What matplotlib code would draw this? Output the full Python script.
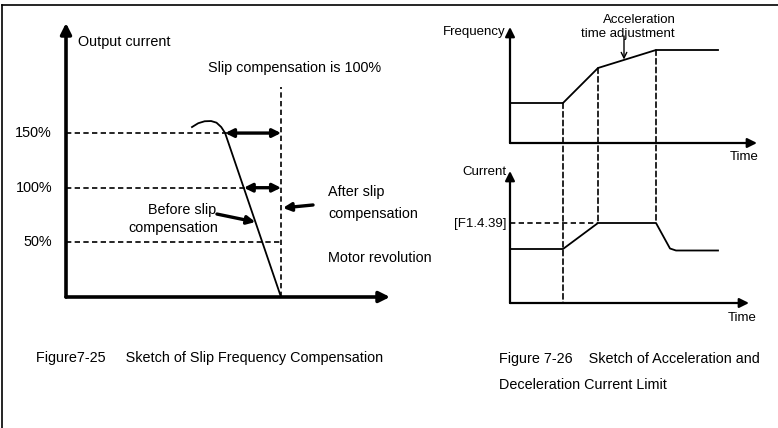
import matplotlib.pyplot as plt
from matplotlib.patches import ConnectionPatch

plt.rcParams['font.family'] = ['Liberation Sans', 'DejaVu Sans']

# ---- Figure 7-25: slip compensation (x: motor revolution, 100 = synchronous; y: current %)
levels_pct = [150, 100, 50]
level_labels = ['150%', '100%', '50%']
slip_x = 100
curve_x = [58.6, 61.5, 64.5, 67.5, 70.0, 72.2, 74.0, 100.0]
curve_y = [155.5, 159.0, 160.8, 161.0, 159.5, 155.5, 150.0, 0.0]
arrow_from_x = [74.0, 82.7]  # where the curve crosses 150% / 100%

# ---- Figure 7-26: acceleration current limit (x: time)
t_freq = [0, 5.3, 8.8, 14.6, 20.8]
freq = [40, 40, 75, 93, 93]
t_cur = [0, 5.3, 8.8, 14.6, 16.0, 16.6, 20.8]
cur = [54, 54, 80, 80, 54.5, 52.5, 52.5]
cur_limit = 80
t_marks = [5.3, 8.8, 14.6]

W, H = 778, 428
fig = plt.figure(figsize=(W / 100, H / 100), dpi=100)


def px_axes(x0, y0, x1, y1):
    # axes whose origin sits at pixel (x0, y0) and top-right at (x1, y1)
    return fig.add_axes([x0 / W, (H - y0) / H, (x1 - x0) / W, (y0 - y1) / H])


# border
ov = fig.add_axes([0, 0, 1, 1])
ov.set_xlim(0, W)
ov.set_ylim(H, 0)
ov.axis('off')
ov.plot([2.5, W], [5, 5], color='black', lw=1.2)
ov.plot([2.5, 2.5], [5, H], color='black', lw=1.2)

fs = 10.4
dash = (0, (3.2, 2.0))

# ---------------- left chart ----------------
ax = px_axes(66, 297, 390, 23)
ax.set_xlim(0, 150.7)
ax.set_ylim(0, 250.7)
ax.axis('off')

ax.annotate('', xy=(150.7, 0), xytext=(0, 0), annotation_clip=False,
            arrowprops=dict(arrowstyle='-|>', lw=2.6, color='black',
                            mutation_scale=16, shrinkA=0, shrinkB=0))
ax.annotate('', xy=(0, 250.7), xytext=(0, 0), annotation_clip=False,
            arrowprops=dict(arrowstyle='-|>', lw=2.6, color='black',
                            mutation_scale=16, shrinkA=0, shrinkB=0))

for lv, lab in zip(levels_pct, level_labels):
    ax.plot([0, slip_x], [lv, lv], color='black', lw=1.2, ls=dash, clip_on=False)
    ax.text(-6.5, lv, lab, ha='right', va='center', fontsize=fs)

ax.plot([slip_x, slip_x], [0, 192.5], color='black', lw=1.2, ls=dash, clip_on=False)
ax.plot(curve_x, curve_y, color='black', lw=1.3, clip_on=False)

for x0, lv in zip(arrow_from_x, levels_pct[:2]):
    ax.annotate('', xy=(slip_x, lv), xytext=(x0, lv), annotation_clip=False,
                arrowprops=dict(arrowstyle='<|-|>', lw=2.4, color='black',
                                mutation_scale=12, shrinkA=0, shrinkB=0))

ax.annotate('', xy=(88.1, 68.6), xytext=(70.2, 75.9), annotation_clip=False,
            arrowprops=dict(arrowstyle='-|>', lw=2.4, color='black',
                            mutation_scale=12, shrinkA=0, shrinkB=0))
ax.annotate('', xy=(100.9, 81.5), xytext=(114.9, 84.2), annotation_clip=False,
            arrowprops=dict(arrowstyle='-|>', lw=2.4, color='black',
                            mutation_scale=12, shrinkA=0, shrinkB=0))

ax.text(5.6, 233, 'Output current', ha='left', va='center', fontsize=fs)
ax.text(66, 209.5, 'Slip compensation is 100%', ha='left', va='center', fontsize=fs)
ax.text(121.9, 96, 'After slip', ha='left', va='center', fontsize=fs)
ax.text(121.9, 76, 'compensation', ha='left', va='center', fontsize=fs)
ax.text(69.8, 79.6, 'Before slip', ha='right', va='center', fontsize=fs)
ax.text(28.8, 63.1, 'compensation', ha='left', va='center', fontsize=fs)
ax.text(121.9, 35.7, 'Motor revolution', ha='left', va='center', fontsize=fs)

fig.text(36 / W, 1 - 358 / H, 'Figure7-25     Sketch of Slip Frequency Compensation',
         ha='left', va='center', fontsize=fs)

# ---------------- right charts ----------------
fs2 = 9.5
axf = px_axes(510, 143, 757, 27)
axf.set_xlim(0, 24.7)
axf.set_ylim(0, 116)
axf.axis('off')

axc = px_axes(510, 303, 749, 171)
axc.set_xlim(0, 23.9)
axc.set_ylim(0, 132)
axc.axis('off')

for a in (axf, axc):
    x1, y1 = a.get_xlim()[1], a.get_ylim()[1]
    a.annotate('', xy=(x1, 0), xytext=(0, 0), annotation_clip=False,
               arrowprops=dict(arrowstyle='-|>', lw=1.6, color='black',
                               mutation_scale=14, shrinkA=0, shrinkB=0))
    a.annotate('', xy=(0, y1), xytext=(0, 0), annotation_clip=False,
               arrowprops=dict(arrowstyle='-|>', lw=1.6, color='black',
                               mutation_scale=14, shrinkA=0, shrinkB=0))

axf.plot(t_freq, freq, color='black', lw=1.3, clip_on=False)
axc.plot(t_cur, cur, color='black', lw=1.3, clip_on=False)
axc.plot([0, t_marks[1]], [cur_limit, cur_limit], color='black', lw=1.2, ls=dash)

# dashed time markers running from the frequency curve into the current chart
fvals = dict(zip(t_freq, freq))
for i, t in enumerate(t_marks):
    yb = 0 if i == 0 else cur_limit
    con = ConnectionPatch(xyA=(t, fvals[t]), coordsA=axf.transData,
                          xyB=(t, yb), coordsB=axc.transData,
                          color='black', lw=1.2, linestyle=dash)
    fig.add_artist(con)

axf.annotate('', xy=(11.4, 83.5), xytext=(11.4, 107), annotation_clip=False,
             arrowprops=dict(arrowstyle='->', lw=1.0, color='black',
                             mutation_scale=10, shrinkA=0, shrinkB=0))
axf.text(12.9, 123, 'Acceleration', ha='center', va='center', fontsize=fs2)
axf.text(11.8, 109, 'time adjustment', ha='center', va='center', fontsize=fs2)
axf.text(-0.5, 111, 'Frequency', ha='right', va='center', fontsize=fs2)
axf.text(22.0, -14, 'Time', ha='left', va='center', fontsize=fs2)

axc.text(-0.4, 131, 'Current', ha='right', va='center', fontsize=fs2)
axc.text(-0.4, 79, '[F1.4.39]', ha='right', va='center', fontsize=fs2)
axc.text(21.8, -15, 'Time', ha='left', va='center', fontsize=fs2)

fig.text(499 / W, 1 - 359 / H, 'Figure 7-26    Sketch of Acceleration and',
         ha='left', va='center', fontsize=fs)
fig.text(499 / W, 1 - 385 / H, 'Deceleration Current Limit',
         ha='left', va='center', fontsize=fs)

fig.savefig('out.png', dpi=100)
